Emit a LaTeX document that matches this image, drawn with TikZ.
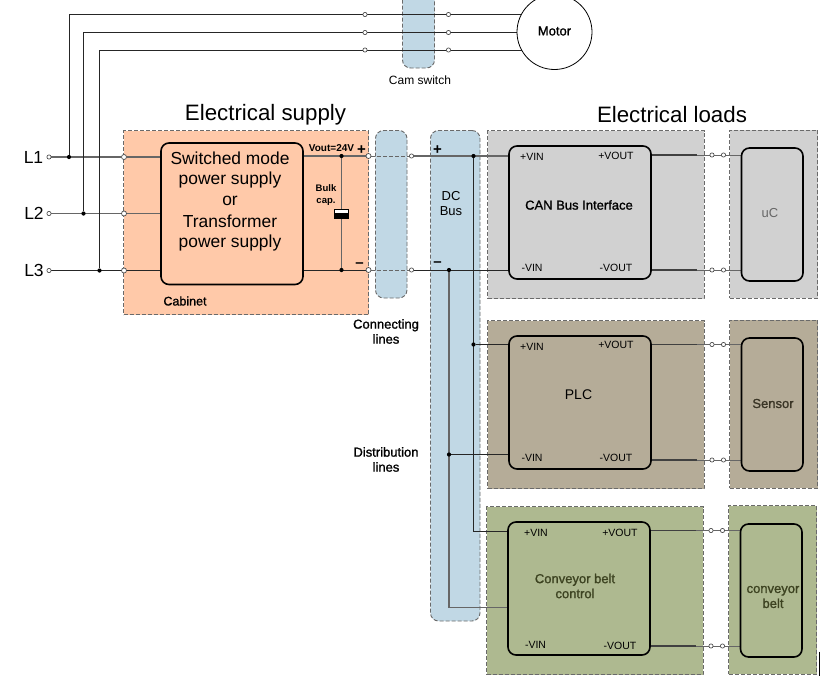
\documentclass[tikz,border=0pt]{standalone}
\usepackage{fontspec}
\setmainfont{Liberation Sans}
\newfontfamily\heavyfont[FakeBold=1.2]{Liberation Sans}
\pgfdeclarelayer{zones}
\pgfdeclarelayer{wires}
\pgfsetlayers{zones,wires,main}
\definecolor{cabinetfill}{HTML}{FFC9A9}
\definecolor{busfill}{HTML}{C1D8E5}
\definecolor{canfill}{HTML}{D1D1D1}
\definecolor{plcfill}{HTML}{B5AC98}
\definecolor{beltfill}{HTML}{AEB990}
\definecolor{zoneedge}{HTML}{6A6A6A}
\definecolor{wiregray}{HTML}{666666}
\definecolor{olivetext}{HTML}{3C4220}
\definecolor{tantext}{HTML}{3A3526}
\newcommand{\fsz}[1]{\fontsize{#1}{#1}\selectfont}
\tikzset{
  x=1pt,y=-1pt,
  zone/.style={draw=zoneedge,dashed,line width=0.9pt,dash pattern=on 4pt off 2pt,anchor=north west,inner sep=0pt,outer sep=0pt},
  busbox/.style={zone,fill=busfill,rounded corners=8pt},
  block/.style={draw=black,line width=1.6pt,rounded corners=8pt,anchor=north west,inner sep=0pt,outer sep=0pt},
  term/.style={circle,draw=black!70,fill=white,line width=0.7pt,minimum size=4.2pt,inner sep=0pt},
  bigterm/.style={term,minimum size=5pt},
  dot/.style={circle,fill=black,minimum size=4.2pt,inner sep=0pt},
  wire/.style={draw=black!85,line width=0.9pt},
  graywire/.style={draw=wiregray,line width=1.3pt},
  linkwire/.style={draw=wiregray,line width=1pt,dash pattern=on 4pt off 2pt},
  title/.style={font=\fsz{22.3},inner sep=0pt},
  phase/.style={font=\fsz{17.5},inner sep=0pt},
  supply/.style={font=\fsz{17.4},inner sep=0pt},
  small/.style={font=\fsz{12},inner sep=0pt,align=center},
  heavy/.style={font=\heavyfont\fsz{13},inner sep=0pt,align=center},
  pin/.style={font=\fsz{10.5},inner sep=0pt},
  sign/.style={font=\fsz{15}\bfseries,inner sep=0pt},
}
\begin{document}
\begin{tikzpicture}
\useasboundingbox (0,0) rectangle (839,686);
\clip (0,0) rectangle (839,686);

% Shaded zones
\begin{pgfonlayer}{zones}
\node[zone,fill=cabinetfill,minimum width=245pt,minimum height=184pt] (cabinet) at (123.5,130.5) {};
\node[busbox,minimum width=32pt,minimum height=78pt] (camzone) at (402.5,-10) {};
\node[busbox,minimum width=31.5pt,minimum height=167.5pt] (linkzone) at (375.5,130.5) {};
\node[busbox,minimum width=49.5pt,minimum height=490.5pt] (dczone) at (430.5,130.5) {};
\node[zone,fill=canfill,minimum width=216.5pt,minimum height=168pt] (canzone) at (487.5,130.5) {};
\node[zone,fill=plcfill,minimum width=216.5pt,minimum height=168pt] (plczone) at (487.5,320.5) {};
\node[zone,fill=beltfill,minimum width=216.5pt,minimum height=168pt] (beltzone) at (486.5,506.5) {};
\node[zone,fill=canfill,minimum width=88pt,minimum height=168pt] (uczone) at (729.5,130) {};
\node[zone,fill=plcfill,minimum width=88pt,minimum height=168pt] (senszone) at (729.5,320) {};
\node[zone,fill=beltfill,minimum width=88pt,minimum height=168.5pt] (cbzone) at (728.5,505.5) {};
\end{pgfonlayer}

% Blocks
\node[block,fill=cabinetfill,minimum width=142pt,minimum height=141.5pt] (psu) at (161,143) {};
\node[block,fill=canfill,minimum width=142pt,minimum height=133pt] (can) at (509,146) {};
\node[block,fill=plcfill,minimum width=142pt,minimum height=133pt] (plc) at (509,336) {};
\node[block,fill=beltfill,minimum width=142pt,minimum height=133pt] (belt) at (508,522) {};
\node[block,fill=canfill,minimum width=61.5pt,minimum height=133pt] (uc) at (741.5,148) {};
\node[block,fill=plcfill,minimum width=61.5pt,minimum height=133pt] (sensor) at (741.5,338) {};
\node[block,fill=beltfill,minimum width=61.5pt,minimum height=133pt] (cb) at (740.5,524) {};
\node[circle,draw=black,fill=white,line width=0.8pt,minimum size=75pt,inner sep=0pt] (motor) at (554.5,32) {};

% Mains side terminals and junctions
\node[term] (l1in) at (49,157) {};
\node[term] (l2in) at (49,213.5) {};
\node[term] (l3in) at (49,270.5) {};
\node[dot] (j1) at (69,157) {};
\node[dot] (j2) at (83.5,213.5) {};
\node[dot] (j3) at (99.5,270.5) {};
\node[bigterm] (l1cab) at (124,157) {};
\node[bigterm] (l2cab) at (124,213.5) {};
\node[bigterm] (l3cab) at (124,270.5) {};
\node[term] (m1a) at (365,14.5) {};
\node[term] (m2a) at (365,32.5) {};
\node[term] (m3a) at (365,50) {};
\node[term] (m1b) at (448.5,14.5) {};
\node[term] (m2b) at (448.5,32.5) {};
\node[term] (m3b) at (448.5,50) {};

% DC rail terminals and junctions
\node[dot] (capp) at (341.5,156) {};
\node[dot] (capn) at (341.5,270) {};
\node[bigterm] (outp) at (368.5,156) {};
\node[bigterm] (outn) at (368.5,270) {};
\node[term] (linkp) at (411.5,156) {};
\node[term] (linkn) at (411.5,270) {};
\node[dot] (busp) at (473.5,156) {};
\node[dot] (busn) at (449,270) {};
\node[dot] (plcp) at (473.5,344.5) {};
\node[dot] (plcn) at (449,454.5) {};
\coordinate (beltp) at (473.5,531);
\coordinate (beltn) at (449,607.5);

% Capacitor plates
\node[draw=black,fill=white,line width=0.7pt,minimum width=14.5pt,minimum height=4.5pt,inner sep=0pt] (capwhite) at (341.5,211.5) {};
\node[fill=black,minimum width=15pt,minimum height=5pt,inner sep=0pt] (capblack) at (341.5,216.5) {};

% Load side terminals
\node[term] (cana) at (712,155) {};
\node[term] (canb) at (723.5,155) {};
\node[term] (canc) at (712,270) {};
\node[term] (cand) at (723.5,270) {};
\node[term] (plca) at (712,344.5) {};
\node[term] (plcb) at (723.5,344.5) {};
\node[term] (plcc) at (712,460) {};
\node[term] (plcd) at (723.5,460) {};
\node[term] (belta) at (711,530.5) {};
\node[term] (beltb) at (722.5,530.5) {};
\node[term] (beltc) at (711,646) {};
\node[term] (beltd) at (722.5,646) {};

\begin{pgfonlayer}{wires}
% Three phase feed to the motor
\draw[graywire] (l1in) -- (l1cab) -- (l1cab -| psu.west);
\draw[graywire] (l2in) -- (l2cab) -- (l2cab -| psu.west);
\draw[wire] (l3in) -- (l3cab) -- (l3cab -| psu.west);
\draw[wire] (j1) -- (j1 |- m1a) -- (m1a) -- (m1b) -- (m1b -| motor);
\draw[wire] (j2) -- (j2 |- m2a) -- (m2a) -- (m2b) -- (m2b -| motor);
\draw[wire] (j3) -- (j3 |- m3a) -- (m3a) -- (m3b) -- (m3b -| motor);
% Supply output and bulk capacitor
\draw[graywire] (capp -| psu.east) -- (outp);
\draw[wire] (capn -| psu.east) -- (outn);
\draw[graywire] (capp) -- (capn);
\draw[linkwire] (outp) -- (linkp);
\draw[linkwire] (outn) -- (linkn);
% DC bus and distribution lines
\draw[graywire] (linkp) -- (linkp -| can.west);
\draw[wire] (linkn) -- (linkn -| can.west);
\draw[wire] (busp) -- (beltp) -- (beltp -| belt.west);
\draw[graywire,line width=1.1pt] (busn) -- (beltn) -- (beltn -| belt.west);
\draw[wire] (plcp) -- (plcp -| plc.west);
\draw[wire] (plcn) -- (plcn -| plc.west);
% Load outputs: heavy run out of the block, thin gray run through the terminals
\foreach \blk/\a/\b/\sink in {can/cana/canb/uc,can/canc/cand/uc,plc/plca/plcb/sensor,plc/plcc/plcd/sensor,belt/belta/beltb/cb,belt/beltc/beltd/cb}{
  \draw[draw=black!75,line width=1.5pt] (\a -| \blk.east) -- ([xshift=-15pt]\a.center);
  \draw[graywire,line width=1pt] ([xshift=-15pt]\a.center) -- (\a) -- (\b) -- (\b -| \sink.west);
}
\end{pgfonlayer}

% Titles and labels
\node[title] (tsupply) at (265.5,115) {Electrical supply};
\node[title] (tloads) at (672,115) {Electrical loads};
\node[phase] (l1txt) at (33.5,157) {L1};
\node[phase] (l2txt) at (34,213.5) {L2};
\node[phase] (l3txt) at (34,270.5) {L3};
\node[supply] (psu1) at (230,158.5) {Switched mode};
\node[supply] (psu2) at (230,180) {power supply};
\node[supply] (psu3) at (230,201) {or};
\node[supply] (psu4) at (230,221.5) {Transformer};
\node[supply] (psu5) at (230,243) {power supply};
\node[inner sep=0pt,font=\fsz{10}\bfseries] (vout) at (331.5,148.5) {Vout=24V};
\node[inner sep=0pt,align=center,font=\fsz{9.5}\bfseries] (bulk) at (326,195) {Bulk\\[2.5pt]cap.};
\node[sign] (sp1) at (361.5,150) {+};
\node[sign] (sn1) at (359.5,265.5) {–};
\node[sign] (sp2) at (437.5,150) {+};
\node[sign] (sn2) at (437.5,264.5) {–};
\node[heavy,font=\heavyfont\fsz{12.5}] (cabtxt) at (185,301) {Cabinet};
\node[small] (camtxt) at (420,80.5) {Cam switch};
\node[heavy] (mottxt) at (554.5,31) {Motor};
\node[heavy,font=\fsz{13}] (dctxt) at (451,204) {DC\\[2pt]Bus};
\node[heavy] (contxt) at (386,331.5) {Connecting\\[2pt]lines};
\node[heavy] (distxt) at (386,459.5) {Distribution\\[2pt]lines};
\node[heavy] (cantxt) at (579,205) {CAN Bus Interface};
\node[heavy,font=\fsz{14}] (plctxt) at (578.5,395) {PLC};
\node[heavy,text=olivetext] (belttxt) at (575,586) {Conveyor belt\\[2pt]control};
\node[small,font=\fsz{13},text=black!60] (uctxt) at (770,213.5) {uC};
\node[heavy,text=tantext] (senstxt) at (773,403.5) {Sensor};
\node[heavy,text=olivetext] (cbtxt) at (773,597) {conveyor\\[2pt]belt};

% Pin names
\node[pin] (a1) at (532,156.5) {+VIN};
\node[pin] (a2) at (616,155.5) {+VOUT};
\node[pin] (a3) at (532,268) {-VIN};
\node[pin] (a4) at (616,268) {-VOUT};
\node[pin] (b1) at (532,346.5) {+VIN};
\node[pin] (b2) at (616,345) {+VOUT};
\node[pin] (b3) at (532,457.5) {-VIN};
\node[pin] (b4) at (616,457.5) {-VOUT};
\node[pin] (c1) at (536,533) {+VIN};
\node[pin] (c2) at (620,532.5) {+VOUT};
\node[pin] (c3) at (535.5,645) {-VIN};
\node[pin] (c4) at (620,645.5) {-VOUT};

% Short vertical rule at the lower right edge
\coordinate (ruletop) at (819,651.5);
\coordinate (rulebot) at (819,676);
\draw[black,line width=1pt] (ruletop) -- (rulebot);
\end{tikzpicture}
\end{document}
